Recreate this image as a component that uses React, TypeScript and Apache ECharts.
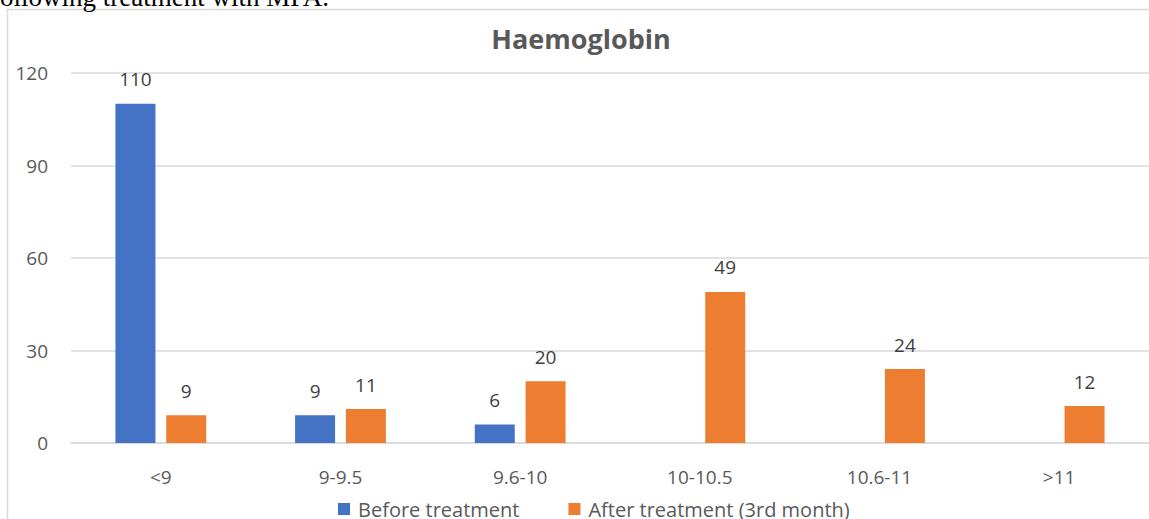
import React, { useEffect, useRef } from "react";
import * as echarts from "echarts";

const categories = ["<9", "9-9.5", "9.6-10", "10-10.5", "10.6-11", ">11"];
const beforeTreatment: (number | null)[] = [110, 9, 6, null, null, null];
const afterTreatment: number[] = [9, 11, 20, 49, 24, 12];
const seriesNames = ["Before treatment", "After treatment (3rd month)"];
const titleText = "Haemoglobin";
const captionText = "following treatment with MPA.";

export default function App() {
  const ref = useRef<HTMLDivElement>(null);
  useEffect(() => {
    if (!ref.current) return;
    const chart = echarts.init(ref.current, undefined, { renderer: "svg" });
    const font = "'Open Sans', 'Noto Sans', sans-serif";
    chart.setOption({
      animation: false,
      backgroundColor: "#ffffff",
      title: {
        text: titleText,
        left: 576,
        top: 20,
        textAlign: "center",
        textStyle: { fontFamily: font, fontSize: 27, fontWeight: "bold", color: "#595959" },
      },
      legend: {
        left: 333,
        top: 494,
        itemWidth: 12,
        itemHeight: 12,
        itemGap: 49,
        icon: "rect",
        textStyle: { fontFamily: font, fontSize: 20, color: "#595959", padding: [0, 0, 0, 3] },
        data: seriesNames,
      },
      grid: { left: 71, top: 73, width: 1104, height: 370, containLabel: false },
      xAxis: {
        type: "category",
        data: categories,
        axisLine: { lineStyle: { color: "#d9d9d9", width: 1.5 } },
        axisTick: { show: false },
        axisLabel: { fontFamily: font, fontSize: 19, color: "#595959", margin: 24 },
      },
      yAxis: {
        type: "value",
        min: 0,
        max: 120,
        interval: 30,
        axisLine: { show: false },
        axisTick: { show: false },
        splitLine: { lineStyle: { color: "#d9d9d9", width: 1.5 } },
        axisLabel: { fontFamily: font, fontSize: 19, color: "#595959", margin: 23 },
      },
      series: [
        {
          name: seriesNames[0],
          type: "bar",
          data: beforeTreatment,
          barWidth: 40,
          barGap: "27%",
          itemStyle: { color: "#4472C4" },
          label: { show: true, position: "top", distance: 15, fontFamily: font, fontSize: 19, color: "#404040" },
        },
        {
          name: seriesNames[1],
          type: "bar",
          data: afterTreatment,
          barWidth: 40,
          barGap: "27%",
          itemStyle: { color: "#ED7D31" },
          label: { show: true, position: "top", distance: 15, fontFamily: font, fontSize: 19, color: "#404040" },
        },
      ],
      graphic: [
        {
          type: "rect",
          shape: { x: 7.5, y: 9.5, width: 1300, height: 700 },
          style: { fill: "none", stroke: "#d9d9d9", lineWidth: 1.5 },
          silent: true,
        },
        {
          type: "text",
          x: -9,
          y: 10,
          style: {
            text: captionText,
            font: "27px 'Liberation Serif', 'DejaVu Serif', serif",
            fill: "#000000",
            verticalAlign: "bottom",
          },
        },
      ],
    });
    return () => chart.dispose();
  }, []);
  return (
    <div
      ref={ref}
      style={{ position: "absolute", left: 0, top: 0, width: 1149, height: 519 }}
    />
  );
}
